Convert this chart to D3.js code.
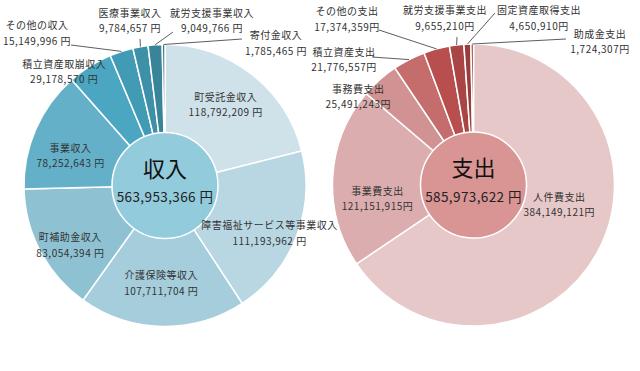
<!DOCTYPE html>
<html>
<head>
<meta charset="utf-8">
<script src="https://cdn.jsdelivr.net/npm/d3@7"></script>
<style>
  body { margin: 0; background: #fff; }
  svg { display: block; font-family: "Noto Sans CJK JP", "Noto Sans", sans-serif; }
  .lbl { font-size: 10px; fill: #333; letter-spacing: 0.5px; }
  .ttl { font-size: 22px; fill: #111; }
  .tot { font-size: 13.5px; fill: #222; letter-spacing: 0.4px; }
  .leader { stroke: #333; stroke-width: 0.8; fill: none; }
</style>
</head>
<body>
<svg id="chart"></svg>
<script>
// 収入
const incomeNames = ["町受託金収入", "障害福祉サービス等事業収入", "介護保険等収入", "町補助金収入",
  "事業収入", "積立資産取崩収入", "その他の収入", "医療事業収入", "就労支援事業収入", "寄付金収入"];
const incomeValues = [118792209, 111193962, 107711704, 83054394, 78252643,
  29178570, 15149996, 9784657, 9049766, 1785465];

// 支出
const expenseNames = ["人件費支出", "事業費支出", "事務費支出", "積立資産支出",
  "その他の支出", "就労支援事業支出", "固定資産取得支出", "助成金支出"];
const expenseValues = [384149121, 121151915, 25491243, 21776557,
  17374359, 9655210, 4650910, 1724307];

const incomeColors = ["#cfe2ea", "#b9d7e2", "#a5cddb", "#8ec2d3", "#65b0c9",
  "#4aa6c1", "#419bb5", "#3d90a8", "#3a849a", "#35798c"];
const expenseColors = ["#e7c8c9", "#dbadae", "#d09292", "#c56c6c",
  "#b84e4e", "#a94545", "#9b3c3c", "#8c3434"];

// label placement: polar (r, angle shift) or block centre + leader end
const incomeLabels = {
  "町受託金収入": {r: 101, da: -1},
  "障害福祉サービス等事業収入": {r: 115, da: 3.3},
  "介護保険等収入": {r: 98, da: 1},
  "町補助金収入": {r: 112, da: -4.4},
  "事業収入": {r: 99, da: -6},
  "積立資産取崩収入": {r: 152, da: -9.4},
  "その他の収入": {x: 37, y: 33, lx: 71, ly: 45},
  "医療事業収入": {x: 130, y: 20.5, lx: 140, ly: 39},
  "就労支援事業収入": {x: 212, y: 20.5, lx: 173, ly: 32},
  "寄付金収入": {x: 276, y: 43, lx: 242, ly: 39}
};
const expenseLabels = {
  "人件費支出": {r: 88, da: -15},
  "事業費支出": {r: 97, da: -11.5},
  "事務費支出": {r: 145, da: -10.9},
  "積立資産支出": {x: 344, y: 59.5, lx: 372, ly: 57},
  "その他の支出": {x: 347, y: 19, lx: 379, ly: 30},
  "就労支援事業支出": {x: 445, y: 18, lx: 457, ly: 37},
  "固定資産取得支出": {x: 539, y: 18, lx: 495, ly: 13},
  "助成金支出": {x: 600, y: 41.5, lx: 566, ly: 39}
};

const width = 640, height = 371;
const outerR = 141, innerR = 53;
const fmt = d3.format(",");

const svg = d3.select("#chart").attr("width", width).attr("height", height);

function donut(cx, cy, names, values, colors, labels, title, unitSep, centerFill){
  const g = svg.append("g").attr("transform", `translate(${cx},${cy})`);
  const pie = d3.pie().sort(null).value(d => d.value);
  const arc = d3.arc().innerRadius(0).outerRadius(outerR);
  const data = names.map((n, i) => ({name: n, value: values[i], color: colors[i]}));
  const arcs = pie(data);

  g.selectAll("path.slice")
    .data(arcs)
    .enter()
    .append("path")
    .attr("class", "slice")
    .attr("d", arc)
    .attr("fill", d => d.data.color)
    .attr("stroke", "#fff")
    .attr("stroke-width", 1.5);

  g.append("circle")
    .attr("r", innerR)
    .attr("fill", centerFill)
    .attr("stroke", "#fff")
    .attr("stroke-width", 1.5);

  g.append("text")
    .attr("class", "ttl")
    .attr("text-anchor", "middle")
    .attr("y", -9)
    .text(title);
  g.append("text")
    .attr("class", "tot")
    .attr("text-anchor", "middle")
    .attr("y", 16.5)
    .text(fmt(d3.sum(values)) + " 円");

  arcs.forEach(d => {
    const lay = labels[d.data.name];
    const mid = (d.startAngle + d.endAngle) / 2;
    let tx, ty;
    if (lay.r !== undefined) {
      const a = mid + lay.da * Math.PI / 180;
      tx = cx + lay.r * Math.sin(a);
      ty = cy - lay.r * Math.cos(a);
    } else {
      tx = lay.x;
      ty = lay.y;
      svg.append("line")
        .attr("class", "leader")
        .attr("x1", cx + outerR * Math.sin(mid))
        .attr("y1", cy - outerR * Math.cos(mid))
        .attr("x2", lay.lx)
        .attr("y2", lay.ly);
    }
    const t = svg.append("text")
      .attr("class", "lbl")
      .attr("text-anchor", "middle");
    t.append("tspan").attr("x", tx).attr("y", ty - 4).text(d.data.name);
    t.append("tspan").attr("x", tx).attr("y", ty + 11.5).text(fmt(d.data.value) + unitSep + "円");
  });
}

donut(165, 185.5, incomeNames, incomeValues, incomeColors, incomeLabels, "収入", " ", "#92cbdc");
donut(473.5, 185, expenseNames, expenseValues, expenseColors, expenseLabels, "支出", "", "#d99494");
</script>
</body>
</html>
